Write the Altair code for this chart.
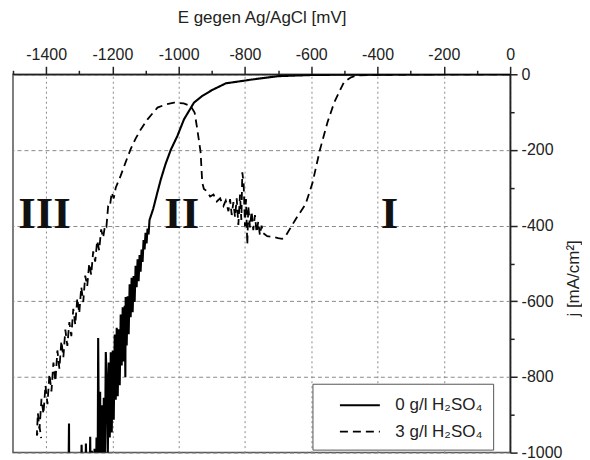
import altair as alt
import pandas as pd

# ---- data ----
series_names = ["0 g/l H₂SO₄", "3 g/l H₂SO₄"]

solid_E = [0, -200, -400, -500, -600, -700, -780, -858, -900, -930, -954, -984, -1004, -1024,
           -1040, -1054, -1066, -1077,
           -1088, -1091, -1094, -1097, -1100, -1103, -1106, -1109, -1112, -1115, -1118, -1121,
           -1124, -1127, -1130, -1133, -1136, -1139, -1142, -1145, -1148, -1151, -1154, -1157,
           -1160, -1161, -1163, -1166, -1169, -1172, -1175, -1178, -1181, -1184, -1187, -1190,
           -1193, -1196, -1199, -1202, -1205, -1208, -1211, -1214, -1217, -1220, -1223, -1226,
           -1229, -1232, -1235, -1237, -1239, -1241, -1243, -1245, -1248, -1251, -1254, -1258,
           -1262, -1264, -1267, -1272, -1280, -1285, -1293, -1300, -1329, -1331, -1336]
solid_j = [0, 0, -1, -1, -2, -5, -14, -24, -42, -58, -75, -119, -163, -200,
           -238, -278, -318, -356,
           -385, -423, -408, -447, -419, -463, -438, -496, -463, -522, -478, -547,
           -489, -563, -506, -602, -533, -629, -538, -642, -555, -687, -587, -717,
           -589, -800, -612, -759, -616, -770, -635, -822, -674, -851, -670, -860,
           -688, -913, -730, -947, -735, -960, -762, -1013, -812, -734, -1067, -855,
           -1082, -875, -1133, -839, -1150, -943, -697, -1180, -960, -1210, -990, -1240,
           -995, -1250, -958, -1280, -976, -1300, -979, -1320, -1400, -923, -1380]

dashed_E = [0, -200, -400, -461, -480, -501, -531, -551, -574, -596, -617, -647, -677, -688,
            -700, -715, -733, -745, -750, -755, -760, -765, -770, -775, -780, -785, -790, -793,
            -797, -800, -804, -808, -811, -815, -820, -825, -830, -835, -840, -845, -850, -858,
            -865, -875, -885, -895, -905, -915, -924, -929, -934, -944, -952, -964, -985, -1014,
            -1040, -1064, -1094, -1114, -1130, -1145, -1160, -1175, -1190,
            -1196, -1202, -1208, -1213, -1218, -1222, -1228, -1234, -1240, -1246, -1252, -1258,
            -1264, -1270, -1276, -1282, -1288, -1294, -1300, -1306, -1312, -1318, -1324, -1330,
            -1336, -1342, -1348, -1354, -1360, -1366, -1372, -1378, -1384, -1390, -1396, -1402,
            -1408, -1414, -1420, -1425, -1428, -1420, -1415]
dashed_j = [0, 0, -1, -3, -8, -20, -75, -127, -200, -286, -343, -383, -427, -435,
            -433, -430, -428, -420, -400, -425, -390, -418, -372, -412, -362, -405, -348, -450,
            -330, -402, -290, -259, -385, -318, -398, -328, -378, -338, -372, -330, -362, -334,
            -348, -328, -336, -318, -323, -309, -303, -286, -205, -145, -101, -84, -77, -75,
            -80, -88, -119, -145, -170, -198, -232, -268, -300,
            -328, -312, -352, -350, -402, -398, -432, -410, -465, -440, -495, -468,
            -530, -500, -560, -532, -602, -562, -632, -592, -662, -620, -692, -655,
            -718, -675, -748, -705, -778, -730, -812, -762, -838, -792, -872, -822,
            -898, -858, -938, -895, -955, -930, -962]

roman_text = ["III", "II", "I"]
roman_E = [-1405, -991, -364]
roman_j = [-405, -405, -405]

x_major = list(range(-1400, 1, 200))
x_minor = list(range(-1500, 0, 200))
y_major = list(range(-1000, 1, 200))
y_minor = list(range(-900, 0, 200))

# ---- tables ----
rows = []
for k, (e, v) in enumerate(zip(solid_E, solid_j)):
    rows.append({"E": e, "j": v, "series": series_names[0], "idx": k})
for k, (e, v) in enumerate(zip(dashed_E, dashed_j)):
    rows.append({"E": e, "j": v, "series": series_names[1], "idx": k})
df = pd.DataFrame(rows)
labels_df = pd.DataFrame({"t": roman_text, "E": roman_E, "j": roman_j})

FONT = "Liberation Sans"
INK = "#222"

xscale = alt.Scale(domain=[-1500, 0], nice=False, zero=False)
yscale = alt.Scale(domain=[-1000, 0], nice=False, zero=False)

xaxis = alt.Axis(
    orient="top", values=x_major,
    labelExpr="'' + datum.value",
    title="E gegen Ag/AgCl [mV]", titleFont=FONT, titleFontSize=17,
    titleFontWeight="normal", titleColor=INK, titlePadding=20,
    labelFont=FONT, labelFontSize=16, labelColor=INK, labelPadding=4,
    labelFlush=False, labelOverlap=False, labelBound=False,
    tickSize=8, tickColor=INK, tickWidth=1.5,
    domainColor=INK, domainWidth=1.5,
    grid=True, gridColor="#8a8a8a", gridDash=[2, 3], gridWidth=1,
)
yaxis = alt.Axis(
    orient="right", values=y_major,
    labelExpr="'' + datum.value",
    title="j [mA/cm²]", titleFont=FONT, titleFontSize=17,
    titleFontWeight="normal", titleColor=INK, titlePadding=4,
    titleAngle=270, titleBaseline="top", titleY=204,
    labelFont=FONT, labelFontSize=16, labelColor=INK, labelPadding=4,
    labelFlush=False, labelOverlap=False, labelBound=False,
    tickSize=7, tickColor=INK, tickWidth=1.5,
    domainColor=INK, domainWidth=1.5,
    grid=True, gridColor="#8a8a8a", gridDash=[4, 3], gridWidth=1,
)
xaxis_minor = alt.Axis(
    orient="top", values=x_minor, labels=False, title=None, grid=False,
    domain=False, tickSize=4, tickColor=INK, tickWidth=1.5,
)
yaxis_minor = alt.Axis(
    orient="right", values=y_minor, labels=False, title=None, grid=False,
    domain=False, tickSize=4, tickColor=INK, tickWidth=1.5,
)

legend = alt.Legend(
    title=None, orient="none", legendX=300, legendY=310,
    symbolType="M0.6,0L4.6,0", symbolSize=400, symbolStrokeWidth=2,
    symbolStrokeColor="black", symbolFillColor="transparent",
    labelFont=FONT, labelFontSize=17, labelColor=INK, labelOffset=50,
    labelLimit=300, padding=10, rowPadding=7,
    fillColor="white", strokeColor="#555",
)

lines = alt.Chart(df).mark_line(clip=True, color="black").encode(
    x=alt.X("E:Q", scale=xscale, axis=xaxis),
    y=alt.Y("j:Q", scale=yscale, axis=yaxis),
    strokeDash=alt.StrokeDash(
        "series:N",
        scale=alt.Scale(domain=series_names, range=[[1, 0], [8, 5]]),
        legend=legend,
    ),
    strokeWidth=alt.StrokeWidth(
        "series:N",
        scale=alt.Scale(domain=series_names, range=[2.1, 1.8]),
        legend=None,
    ),
    order="idx:Q",
)

minor = alt.Chart(labels_df).mark_point(opacity=0).encode(
    x=alt.X("E:Q", scale=xscale, axis=xaxis_minor),
    y=alt.Y("j:Q", scale=yscale, axis=yaxis_minor),
)

romans = alt.Chart(labels_df).mark_text(
    font="Liberation Serif", fontWeight="bold", fontSize=45,
    baseline="alphabetic", align="center", color="#111",
).encode(
    x=alt.X("E:Q", scale=xscale, axis=None),
    y=alt.Y("j:Q", scale=yscale, axis=None),
    text="t:N",
)

chart = alt.layer(lines, minor, romans).resolve_axis(
    x="independent", y="independent"
).properties(
    width=498, height=379,
    padding={"left": 4, "top": 0, "right": 0, "bottom": 0},
    background="white",
).configure_view(stroke="#555", strokeWidth=1.5)

chart.save("out.html", embed_options={"renderer": "svg", "actions": False})
